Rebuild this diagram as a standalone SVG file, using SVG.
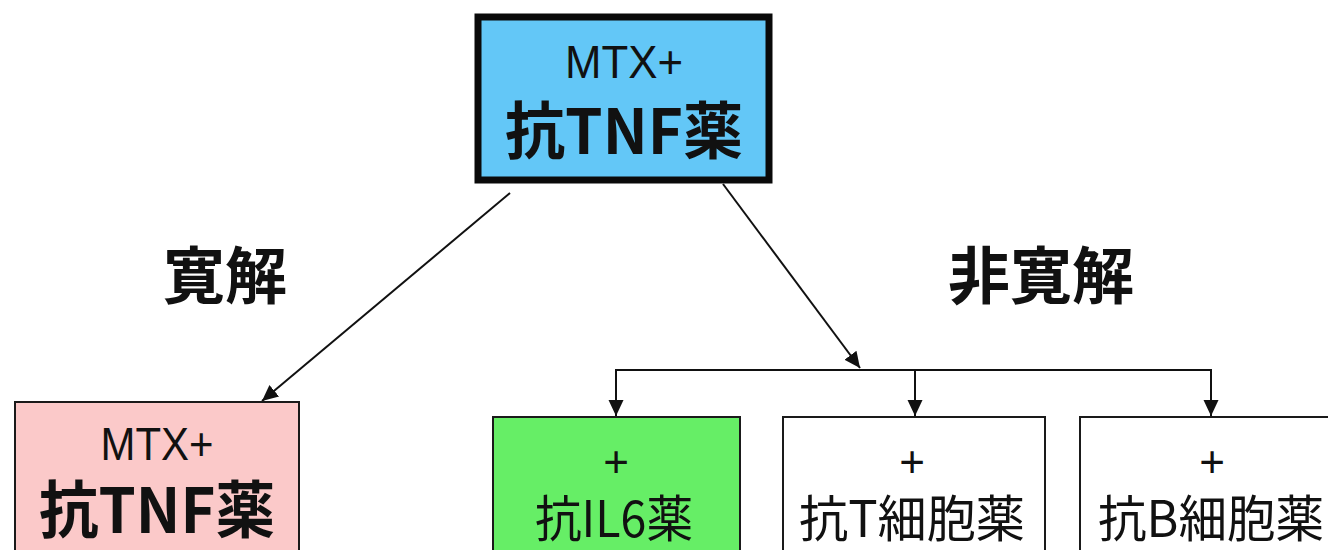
<svg xmlns="http://www.w3.org/2000/svg" width="1328" height="550" viewBox="0 0 1328 550">
<style>
.lat{font-family:"Liberation Sans",Arial,sans-serif;fill:#111;text-anchor:middle}
.cjk{font-family:"Noto Sans CJK JP","Noto Sans CJK SC",sans-serif;fill:#111;text-anchor:middle}
.b{font-weight:bold}
.box{stroke:#1a1a1a;stroke-width:2}
.con{stroke:#111;stroke-width:2;fill:none}
</style>
<defs>
<marker id="ah" markerUnits="userSpaceOnUse" markerWidth="18" markerHeight="18" refX="16" refY="9" orient="auto">
<path d="M0,1.5 L16,9 L0,16.5 Z" fill="#111"/>
</marker>
</defs>
<rect width="1328" height="550" fill="#fff"/>
<g id="connectors">
<line class="con" x1="510" y1="193" x2="262" y2="401" marker-end="url(#ah)"/>
<line class="con" x1="723" y1="184" x2="860" y2="368" marker-end="url(#ah)"/>
<polyline class="con" points="616,416 616,370 1211,370 1211,416" marker-end="url(#ah)"/>
<line class="con" x1="616" y1="380" x2="616" y2="416" marker-end="url(#ah)"/>
<line class="con" x1="915" y1="370" x2="915" y2="416" stroke-width="3" marker-end="url(#ah)"/>
</g>
<g id="node-top">
<rect x="478" y="17" width="291" height="163" fill="#63C7F7" stroke="#0a0a0a" stroke-width="7"/>
<text class="lat" x="624" y="78" font-size="46" textLength="118" lengthAdjust="spacingAndGlyphs">MTX+</text>
<text class="cjk b" x="624" y="154" font-size="62" textLength="238" lengthAdjust="spacingAndGlyphs">抗TNF薬</text>
</g>
<g id="label-remission">
<text class="cjk b" x="225" y="299" font-size="62">寛解</text>
</g>
<g id="label-nonremission">
<text class="cjk b" x="1041" y="299" font-size="62">非寛解</text>
</g>
<g id="node-left">
<rect class="box" x="15" y="402" width="284" height="160" fill="#FBC9C9"/>
<text class="lat" x="157" y="460" font-size="46" textLength="113" lengthAdjust="spacingAndGlyphs">MTX+</text>
<text class="cjk b" x="157" y="533" font-size="62" textLength="236" lengthAdjust="spacingAndGlyphs">抗TNF薬</text>
</g>
<g id="node-il6">
<rect class="box" x="493" y="417" width="247" height="150" fill="#66EE66"/>
<text class="lat" x="616" y="477" font-size="44">+</text>
<text class="cjk" x="614" y="537" font-size="50" textLength="158" lengthAdjust="spacingAndGlyphs">抗IL6薬</text>
</g>
<g id="node-tcell">
<rect class="box" x="783" y="417" width="262" height="150" fill="#fff"/>
<text class="lat" x="912" y="477" font-size="44">+</text>
<text class="cjk" x="912" y="537" font-size="50" textLength="226" lengthAdjust="spacingAndGlyphs">抗T細胞薬</text>
</g>
<g id="node-bcell">
<rect class="box" x="1080" y="417" width="260" height="150" fill="#fff"/>
<text class="lat" x="1212" y="477" font-size="44">+</text>
<text class="cjk" x="1211" y="537" font-size="50" textLength="226" lengthAdjust="spacingAndGlyphs">抗B細胞薬</text>
</g>
</svg>
